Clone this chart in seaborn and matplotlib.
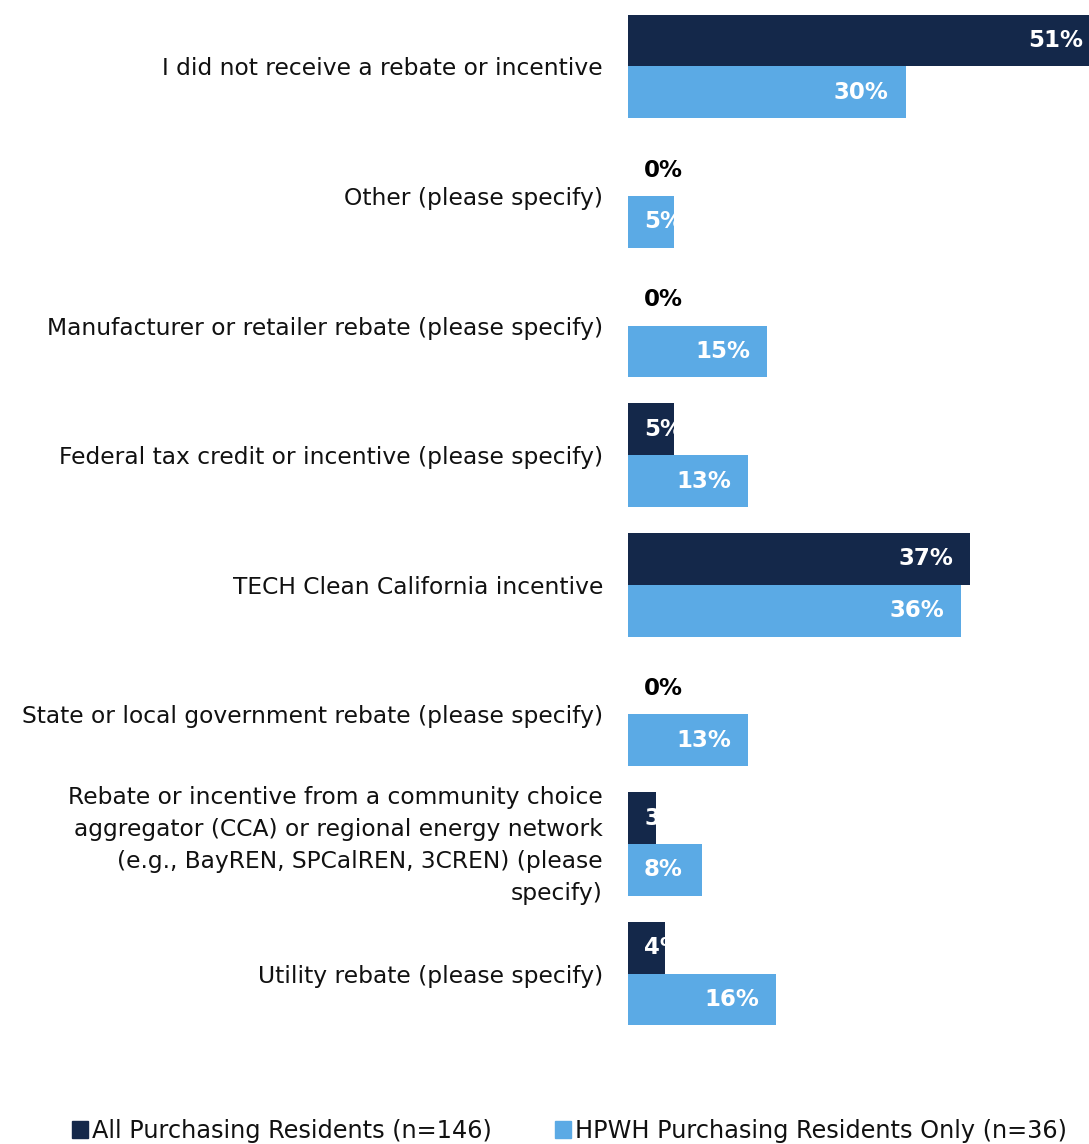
import matplotlib
matplotlib.use("Agg")
import matplotlib.pyplot as plt
import matplotlib.patches as mpatches
import matplotlib.transforms as mtransforms
from matplotlib import font_manager as fm
import seaborn as sns
import pandas as pd

categories = [
    "I did not receive a rebate or incentive",
    "Other (please specify)",
    "Manufacturer or retailer rebate (please specify)",
    "Federal tax credit or incentive (please specify)",
    "TECH Clean California incentive",
    "State or local government rebate (please specify)",
    "Rebate or incentive from a community choice\naggregator (CCA) or regional energy network\n(e.g., BayREN, SPCalREN, 3CREN) (please\nspecify)",
    "Utility rebate (please specify)",
]
series_names = ["All Purchasing Residents (n=146)", "HPWH Purchasing Residents Only (n=36)"]
all_residents = [51, 0, 0, 5, 37, 0, 3, 4]
hpwh_residents = [30, 5, 15, 13, 36, 13, 8, 16]
colors = ["#14284a", "#5baae5"]

rows = []
for c, a, h in zip(categories, all_residents, hpwh_residents):
    rows.append({"category": c, "series": series_names[0], "value": a})
    rows.append({"category": c, "series": series_names[1], "value": h})
df = pd.DataFrame(rows)

sns.set_theme(style="white")
plt.rcParams["font.family"] = ["DejaVu Sans"]

fig = plt.figure(figsize=(10.89, 11.44), dpi=100)
ax = fig.add_axes([628 / 1089, 1 - 1038.3 / 1144, (55 * 9.25) / 1089, (1038.3 - 1.7) / 1144])

sns.barplot(data=df, y="category", x="value", hue="series", palette=colors,
            orient="h", width=0.8, ax=ax, legend=False, saturation=1,
            order=categories, hue_order=series_names, linewidth=0)

ax.set_xlim(0, 55)
ax.set_ylim(7.5, -0.5)
for s in ax.spines.values():
    s.set_visible(False)
ax.set_xticks([])
ax.set_xlabel("")
ax.set_ylabel("")
ax.tick_params(axis="y", length=0, pad=18, labelsize=16.8, labelcolor="#111111")
for lbl in ax.get_yticklabels():
    lbl.set_linespacing(1.5)
    if "\n" in lbl.get_text():
        lbl.set_transform(lbl.get_transform() +
                          mtransforms.ScaledTranslation(0, 5 / 100, fig.dpi_scale_trans))

lab_kw = dict(fontsize=16.5, fontweight="bold", va="center")
for cont, vals in zip(ax.containers, [all_residents, hpwh_residents]):
    for bar, v in zip(cont, vals):
        yc = bar.get_y() + bar.get_height() / 2
        if v == 0:
            ax.text(1.73, yc, f"{v}%", ha="left", color="black", **lab_kw)
        elif v < 10:
            t = ax.text(1.73, yc, f"{v}%", ha="left", color="white", **lab_kw)
            t.set_clip_path(bar)
        else:
            ax.text(v - 1.8, yc, f"{v}%", ha="right", color="white", **lab_kw)

# legend font sized so the first entry spans ~400 px
legfont = fm.FontProperties(family="DejaVu Sans", size=20)
renderer = fig.canvas.get_renderer()
probe = fig.text(0, 0, series_names[0], fontproperties=legfont)
w = probe.get_window_extent(renderer).width
probe.remove()
size = 20 * 400 / w
legfont.set_size(size)
fpx = size * 100 / 72

handles = [mpatches.Patch(color=c, label=n) for c, n in zip(colors, series_names)]
leg = fig.legend(handles=handles, ncol=2, loc="center left",
                 bbox_to_anchor=(72 / 1089, 1 - 1131 / 1144), frameon=False,
                 handlelength=16 / fpx, handleheight=16 / fpx, handletextpad=4 / fpx,
                 columnspacing=63 / fpx, prop=legfont, borderaxespad=0, borderpad=0)
for t in leg.get_texts():
    t.set_color("#111111")

fig.savefig("out.png", dpi=100)
